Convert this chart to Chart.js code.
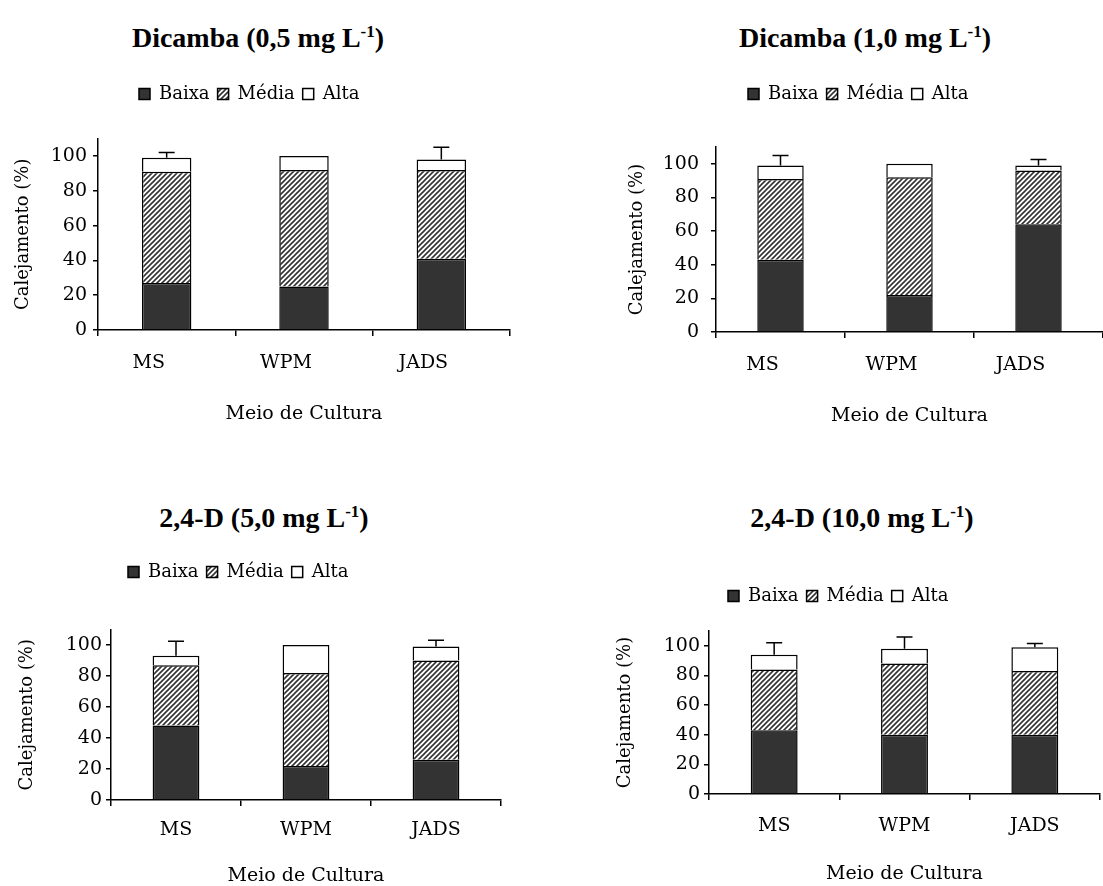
<!DOCTYPE html>
<html>
<head>
<meta charset="utf-8">
<script src="https://cdn.jsdelivr.net/npm/chart.js@4"></script>
<style>
  body { margin: 0; background: #fff; }
  #page { position: relative; width: 1103px; height: 886px; overflow: hidden; }
  canvas { position: absolute; }
  .head { position: absolute; width: 400px; text-align: center; font: bold 28px "Liberation Serif", serif; line-height: 30px; color: #000; }
  .head sup { font-size: 17px; vertical-align: 10px; line-height: 0; }
</style>
</head>
<body>
<div id="page">
  <div class="head" style="left:58px;top:23px">Dicamba (0,5 mg L<sup>-1</sup>)</div>
  <div class="head" style="left:665px;top:23px">Dicamba (1,0 mg L<sup>-1</sup>)</div>
  <div class="head" style="left:64px;top:503px">2,4-D (5,0 mg L<sup>-1</sup>)</div>
  <div class="head" style="left:662px;top:503px">2,4-D (10,0 mg L<sup>-1</sup>)</div>
  <canvas id="c1" width="551" height="443" style="left:0;top:0"></canvas>
  <canvas id="c2" width="552" height="443" style="left:551px;top:0"></canvas>
  <canvas id="c3" width="551" height="443" style="left:0;top:443px"></canvas>
  <canvas id="c4" width="552" height="443" style="left:551px;top:443px"></canvas>
</div>
<script>
const categories = ['MS', 'WPM', 'JADS'];
const seriesNames = ['Baixa', 'Média', 'Alta'];

// Dicamba (0,5 mg/L)
const dic05Baixa = [27, 25, 41];
const dic05Media = [64, 67, 51];
const dic05Alta = [8, 8, 6];
const dic05Erro = [3, 0, 7];

// Dicamba (1,0 mg/L)
const dic10Baixa = [43, 22, 64];
const dic10Media = [48, 70, 32];
const dic10Alta = [8, 8, 3];
const dic10Erro = [6, 0, 3.5];

// 2,4-D (5,0 mg/L)
const d50Baixa = [48, 22, 26];
const d50Media = [39, 60, 64];
const d50Alta = [6, 18, 9];
const d50Erro = [9.5, 0, 4];

// 2,4-D (10,0 mg/L)
const d100Baixa = [43, 40, 40];
const d100Media = [41, 48, 43];
const d100Alta = [10, 10, 16];
const d100Erro = [8, 8, 2.5];

const yTicks = [0, 20, 40, 60, 80, 100];

const FONT = "'DejaVu Serif', serif";
const DARK = '#333333';

function hatch() {
  const c = document.createElement('canvas');
  c.width = c.height = 5;
  const g = c.getContext('2d');
  g.fillStyle = '#fff';
  g.fillRect(0, 0, 5, 5);
  g.strokeStyle = DARK;
  g.lineWidth = 1.6;
  g.beginPath();
  g.moveTo(-1, 6); g.lineTo(6, -1);
  g.moveTo(-1, 1); g.lineTo(1, -1);
  g.moveTo(4, 6); g.lineTo(6, 4);
  g.stroke();
  return g.createPattern(c, 'repeat');
}

// error bar above the stack, read from the top dataset
const errorBars = {
  id: 'errorBars',
  afterDatasetsDraw(chart) {
    const {ctx, scales: {x, y}} = chart;
    const ds = chart.data.datasets;
    const erro = ds[ds.length - 1].erro;
    ctx.save();
    ctx.strokeStyle = '#000';
    ctx.lineWidth = 1.5;
    erro.forEach((e, i) => {
      if (!e) return;
      const total = ds.reduce((s, d) => s + d.data[i], 0);
      const px = x.getPixelForValue(i);
      const y0 = y.getPixelForValue(total);
      const y1 = y.getPixelForValue(total + e);
      ctx.beginPath();
      ctx.moveTo(px, y0); ctx.lineTo(px, y1);
      ctx.moveTo(px - 8, y1); ctx.lineTo(px + 8, y1);
      ctx.stroke();
    });
    ctx.restore();
  }
};

// move the legend to a fixed spot
const legendAt = {
  id: 'legendAt',
  afterLayout(chart, args, opts) {
    const lg = chart.legend;
    if (!lg) return;
    const p = lg.options.labels.padding;
    const w = lg.width, h = lg.height;
    lg.left = opts.x - p;
    lg.right = lg.left + w;
    lg.top = opts.y - p - opts.itemHeight / 2;
    lg.bottom = lg.top + h;
  }
};

function panel(id, box, g, baixa, media, alta, erro) {
  const fills = [DARK, hatch(), '#fff'];
  const datasets = [baixa, media, alta].map((d, k) => ({
    label: seriesNames[k],
    data: d,
    backgroundColor: fills[k],
    borderColor: '#000',
    borderWidth: 1.5,
    categoryPercentage: 1,
    barPercentage: 0.36
  }));
  datasets[2].erro = erro;

  const chart = new Chart(document.getElementById(id), {
    type: 'bar',
    data: { labels: categories, datasets },
    options: {
      responsive: false,
      animation: false,
      devicePixelRatio: 1,
      layout: {
        padding: { left: 0, right: box.x + box.w - g.axisRight, top: 0, bottom: 0 }
      },
      plugins: {
        legend: {
          position: 'top',
          fullSize: false,
          align: 'start',
          labels: { boxWidth: 11, boxHeight: 11, padding: 8, color: '#000', font: { family: FONT, size: 18 } }
        },
        tooltip: { enabled: false },
        legendAt: { x: g.legendX - box.x, y: g.legendY - box.y, itemHeight: 18 }
      },
      scales: {
        x: {
          stacked: true,
          border: { color: '#000', width: 1.5 },
          grid: { drawOnChartArea: false, drawTicks: true, tickLength: 6, color: '#000', lineWidth: 1.5, offset: true },
          ticks: { color: '#000', font: { family: FONT, size: 19 }, padding: g.labelDy - 6 - 11.4, labelOffset: g.labelShift },
          title: {
            display: true, text: 'Meio de Cultura', color: '#000',
            font: { family: FONT, size: 19 },
            padding: { top: 0, bottom: box.y + box.h - (g.zeroY + g.xTitleDy) - 11.4 }
          },
          afterFit: s => { s.height = box.y + box.h - g.zeroY; }
        },
        y: {
          stacked: true,
          min: 0,
          max: 110,
          afterBuildTicks: ax => { ax.ticks = yTicks.map(v => ({ value: v })); },
          border: { color: '#000', width: 1.5 },
          grid: { drawOnChartArea: false, drawTicks: true, tickLength: 5, color: '#000', lineWidth: 1.5 },
          ticks: { color: '#000', font: { family: FONT, size: 19 }, padding: g.tickGap - 5 },
          title: {
            display: true, text: 'Calejamento (%)', color: '#000',
            font: { family: FONT, size: 18 },
            padding: { top: g.yTitleX - box.x - 10.8, bottom: 0 }
          },
          afterFit: s => { s.width = g.axisX - box.x; }
        }
      }
    },
    plugins: [errorBars, legendAt]
  });

  // put the top of the plot area where the 110 line sits
  chart.options.layout.padding.top = Math.max(0, g.topY - box.y - chart.legend.height);
  chart.update();
}

panel('c1', { x: 0, y: 0, w: 551, h: 443 },
  { axisX: 98, axisRight: 510, zeroY: 330, topY: 138.6, yTitleX: 23, tickGap: 11, legendX: 139, legendY: 94, labelDy: 33, xTitleDy: 84, labelShift: -18 },
  dic05Baixa, dic05Media, dic05Alta, dic05Erro);

panel('c2', { x: 551, y: 0, w: 552, h: 443 },
  { axisX: 716, axisRight: 1103, zeroY: 332, topY: 147, yTitleX: 637, tickGap: 17, legendX: 748, legendY: 94, labelDy: 33, xTitleDy: 84, labelShift: -18 },
  dic10Baixa, dic10Media, dic10Alta, dic10Erro);

panel('c3', { x: 0, y: 443, w: 551, h: 443 },
  { axisX: 111, axisRight: 501, zeroY: 800, topY: 629.5, yTitleX: 27, tickGap: 9, legendX: 128, legendY: 572, labelDy: 30, xTitleDy: 76, labelShift: 0 },
  d50Baixa, d50Media, d50Alta, d50Erro);

panel('c4', { x: 551, y: 443, w: 552, h: 443 },
  { axisX: 709, axisRight: 1100, zeroY: 794, topY: 631, yTitleX: 625, tickGap: 9, legendX: 728, legendY: 596, labelDy: 32, xTitleDy: 80, labelShift: 0 },
  d100Baixa, d100Media, d100Alta, d100Erro);
</script>
</body>
</html>
